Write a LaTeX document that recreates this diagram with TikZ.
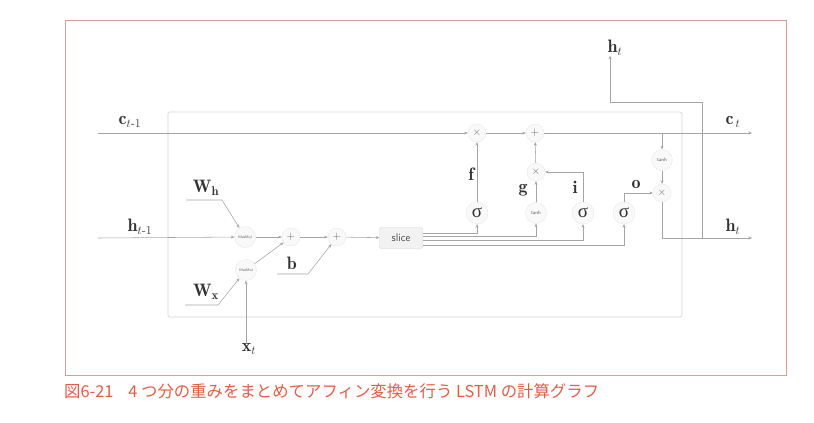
\documentclass[tikz,border=0pt]{standalone}
\usepackage{amsmath}
\usepackage{fontspec}
\newfontfamily\jpfont{Noto Sans CJK JP}
\newfontfamily\grk{Liberation Serif}
\usetikzlibrary{arrows.meta,calc}
\definecolor{frame}{RGB}{214,160,150}
\definecolor{capred}{RGB}{226,92,70}
\definecolor{ln}{RGB}{165,165,165}
\tikzset{
  conn/.style={draw=ln, line width=0.55pt, -{Stealth[length=3.5pt,width=3pt]}},
  op/.style={circle, fill=gray!5, draw=gray!18, line width=0.4pt, minimum size=18pt, inner sep=0pt, text=gray!80!black, font=\fontsize{11}{11}\selectfont},
  gate/.style={op, minimum size=22pt, text=black!80, font=\grk\fontsize{19}{19}\selectfont},
  small/.style={op, minimum size=21pt, text=gray!70!black, font=\fontsize{5}{5}\sffamily},
  lbl/.style={inner sep=0pt, text=black!80, font=\fontsize{18}{18}\selectfont},
  slicebox/.style={draw=gray!35, fill=gray!10, rounded corners=1.5pt, minimum width=43pt, minimum height=21pt, inner sep=0pt, text=gray!60!black, font=\fontsize{11}{11}\sffamily}
}
\begin{document}
\begin{tikzpicture}[x=1pt,y=-1pt]
\useasboundingbox (0,0) rectangle (814,423);
% frames
\draw[frame, line width=0.8pt] (65,20) rectangle (786,375);
\draw[gray!35, line width=0.6pt, rounded corners=2pt] (168,112) rectangle (682,317);
\node[anchor=west, inner sep=0pt, text=capred, font=\jpfont\fontsize{16.4}{17}\selectfont] (cap) at (64,391) {図6-21\hspace{0.9em}4 つ分の重みをまとめてアフィン変換を行う LSTM の計算グラフ};

% nodes
\node[op] (x1) at (477,133) {$\times$};
\node[op] (p1) at (535,133) {$+$};
\node[small] (th2) at (662,160) {tanh};
\node[op] (x3) at (662,193) {$\times$};
\node[op] (x2) at (536,172) {$\times$};
\node[gate] (sf) at (477,213) {σ};
\node[small] (th1) at (536,213) {tanh};
\node[gate] (si) at (583,213) {σ};
\node[gate] (so) at (624,213) {σ};
\node[small, font=\fontsize{3.8}{4}\sffamily] (mm1) at (245,237) {MatMul};
\node[small, font=\fontsize{3.8}{4}\sffamily] (mm2) at (246,270) {MatMul};
\node[op] (pa) at (291,237) {$+$};
\node[op] (pb) at (337,237) {$+$};
\node[slicebox] (slice) at (401,238) {slice};

% labels
\node[lbl] (lc0) at (130,122) {$\mathbf{c}_{t\text{-}1}$};
\node[lbl] (lh0) at (140,227) {$\mathbf{h}_{t\text{-}1}$};
\node[lbl] (lwh) at (206,188) {$\mathbf{W}_{\mathbf{h}}$};
\node[lbl] (lwx) at (206,292) {$\mathbf{W}_{\mathbf{x}}$};
\node[lbl] (lb) at (292,263) {$\mathbf{b}$};
\node[lbl] (lxt) at (249,349) {$\mathbf{x}_{t}$};
\node[lbl] (lht1) at (615,48) {$\mathbf{h}_{t}$};
\node[lbl] (lct) at (733,122) {$\mathbf{c}_{\,t}$};
\node[lbl] (lht2) at (733,227) {$\mathbf{h}_{t}$};
\node[lbl] (lf) at (471,174) {$\mathbf{f}$};
\node[lbl] (lg) at (523,190) {$\mathbf{g}$};
\node[lbl] (li) at (575,187) {$\mathbf{i}$};
\node[lbl] (lo) at (636,184) {$\mathbf{o}$};

% coordinates
\coordinate (cin) at (98,133);
\coordinate (cout) at (752,133);
\coordinate (cb) at (662,133);
\coordinate (hin) at (98,238);
\coordinate (hout) at (752,238);
\coordinate (hb) at (702,238);
\coordinate (hc) at (610,102);
\coordinate (wh1) at (186,200);
\coordinate (wh2) at (222,200);
\coordinate (wx1) at (185,305);
\coordinate (wx2) at (218,305);
\coordinate (b1) at (277,274);
\coordinate (b2) at (308,274);

% cell line
\draw[conn] (cin) -- (x1);
\draw[conn] (x1) -- (p1);
\draw[conn] (p1) -- (cout);
\draw[conn] (cb) -- (th2);
\draw[conn] (th2) -- (x3);
% gates
\draw[conn] (sf) -- (x1);
\draw[conn] (th1) -- (x2);
\draw[conn] (x2) -- (p1);
\draw[conn] (si) |- (x2);
\draw[conn] (so) |- (x3);
% output
\draw[conn] (x3) |- (hout);
\draw[conn] (hb) |- (hc) -- (lht1.south -| hc);
% input side
\draw[conn] (hin) -- (mm1);
\draw[conn] (wh1) -- (wh2) -- (mm1);
\draw[conn] (wx1) -- (wx2) -- (mm2);
\draw[conn] (lxt.north -| mm2) -- (mm2);
\draw[conn] (mm1) -- (pa);
\draw[conn] (mm2) -- (pa);
\draw[conn] (pa) -- (pb);
\draw[conn] (b1) -- (b2) -- (pb);
\draw[conn] (pb) -- (slice);
% slice outputs
\draw[conn] ([yshift=5pt]slice.east) -| (sf);
\draw[conn] ([yshift=1.5pt]slice.east) -| (th1);
\draw[conn] ([yshift=-2pt]slice.east) -| (si);
\draw[conn] ([yshift=-7pt]slice.east) -| (so);
\end{tikzpicture}
\end{document}
